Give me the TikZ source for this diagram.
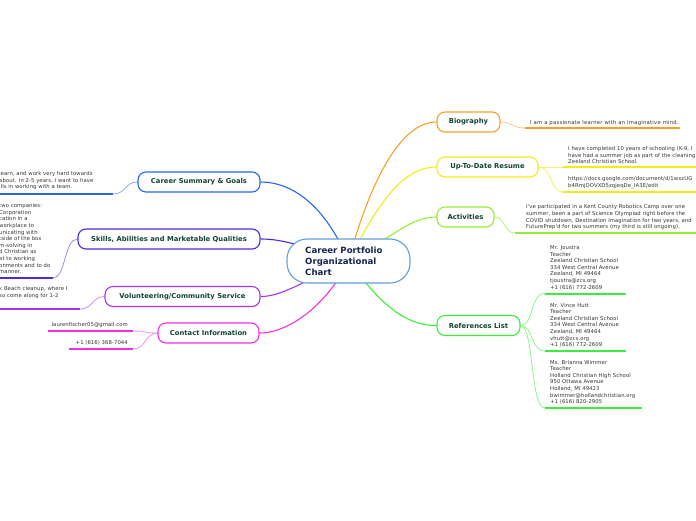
\documentclass[tikz,border=0pt]{standalone}
\usepackage{fontspec}
\setmainfont{DejaVu Sans}
\newfontfamily\leaffont[LetterSpace=1.5]{DejaVu Sans}
\newfontfamily\widefont[LetterSpace=4.5]{DejaVu Sans}
\usetikzlibrary{backgrounds}
\definecolor{orangeC}{RGB}{245,160,40}
\definecolor{yellowC}{RGB}{238,238,20}
\definecolor{limeC}{RGB}{150,238,50}
\definecolor{greenC}{RGB}{60,238,60}
\definecolor{blueC}{RGB}{40,100,240}
\definecolor{indigoC}{RGB}{80,40,220}
\definecolor{purpleC}{RGB}{170,50,240}
\definecolor{magentaC}{RGB}{240,50,220}
\definecolor{centC}{RGB}{95,160,215}
\definecolor{titleC}{RGB}{18,68,55}
\definecolor{navyC}{RGB}{20,35,80}
\definecolor{leafC}{RGB}{50,50,50}
\begin{document}
\begin{tikzpicture}[x=1pt,y=-1pt,
  mainbox/.style={draw, line width=1.1pt, rounded corners=8pt, fill=white,
    font=\fontsize{6.8}{8}\selectfont\bfseries, text=titleC, inner sep=0pt,
    minimum height=20pt},
  leaftext/.style={font=\leaffont\fontsize{5.3}{6.6}\selectfont, text=leafC, align=left, inner sep=0pt},
  trunk/.style={line width=1.1pt},
  twig/.style={line width=0.8pt},
  uline/.style={line width=2pt}
]
\clip (0,0) rectangle (696,520);
\useasboundingbox (0,0) rectangle (696,520);

% central node
\node[draw=centC, line width=1.1pt, rounded corners=20pt, fill=white,
      minimum width=123pt, minimum height=44pt, inner sep=0pt] (c) at (348.5,261) {};
\node[font=\fontsize{8.6}{11}\selectfont\bfseries, text=navyC, align=left,
      anchor=west, inner sep=0pt] (ct) at (305,261) {Career Portfolio\\Organizational\\Chart};

% main nodes
\node[mainbox, draw=orangeC, minimum width=63pt] (bio) at (468.5,122) {Biography};
\node[mainbox, draw=yellowC, minimum width=101pt] (res) at (487.5,167) {Up-To-Date Resume};
\node[mainbox, draw=limeC, minimum width=57pt] (act) at (465.5,217) {Activities};
\node[mainbox, draw=greenC, minimum width=83pt] (ref) at (478.5,325.5) {References List};
\node[mainbox, draw=blueC, minimum width=122pt] (cs) at (199,182) {Career Summary \& Goals};
\node[mainbox, draw=indigoC, minimum width=182pt] (sk) at (169,239) {Skills, Abilities and Marketable Qualities};
\node[mainbox, draw=purpleC, minimum width=155pt] (vol) at (182.5,296.5) {Volunteering/Community Service};
\node[mainbox, draw=magentaC, minimum width=101pt] (ci) at (208.5,333) {Contact Information};

% underline coordinates
\coordinate (b1a) at (525,128); \coordinate (b1b) at (680,128);
\coordinate (r1a) at (563,167); \coordinate (r1b) at (700,167);
\coordinate (r2a) at (563,192); \coordinate (r2b) at (700,192);
\coordinate (a1a) at (515,233); \coordinate (a1b) at (700,233);
\coordinate (f1a) at (545,293.5); \coordinate (f1b) at (626,293.5);
\coordinate (f2a) at (545,351); \coordinate (f2b) at (626,351);
\coordinate (f3a) at (545,408); \coordinate (f3b) at (642,408);
\coordinate (s1a) at (113,194); \coordinate (s1b) at (-5,194);
\coordinate (k1a) at (53,278); \coordinate (k1b) at (-5,278);
\coordinate (v1a) at (80,309); \coordinate (v1b) at (-5,309);
\coordinate (c1a) at (133,331); \coordinate (c1b) at (48,331);
\coordinate (c2a) at (133,349); \coordinate (c2b) at (69,349);

% leaf texts
\node[leaftext, font=\widefont\fontsize{5.3}{6.6}\selectfont, anchor=south west] (bt) at (530,126) {I am a passionate learner with an imaginative mind.};
\node[leaftext, anchor=south west] (rt1) at (568,164) {I have completed 10 years of schooling (K-9, I\\have had a summer job as part of the cleaning\\Zeeland Christian School.};
\node[leaftext, anchor=south west] (rt2) at (568,189) {https://docs.google.com/document/d/1wxzUG\\b4RmjOOVXD5zqjeqDe\_IA3E/edit};
\node[leaftext, anchor=south west] (at) at (526,230) {I've participated in a Kent County Robotics Camp over one\\summer, been a part of Science Olympiad right before the\\COVID shutdown, Destination Imagination for two years, and\\FuturePrep'd for two summers (my third is still ongoing).};
\node[leaftext, anchor=south west] (ft1) at (550,290) {Mr. Joustra\\Teacher\\Zeeland Christian School\\334 West Central Avenue\\Zeeland, MI 49464\\tjoustra@zcs.org\\+1 (616) 772-2609};
\node[leaftext, anchor=south west] (ft2) at (550,347.5) {Mr. Vince Hutt\\Teacher\\Zeeland Christian School\\334 West Central Avenue\\Zeeland, MI 49464\\vhutt@zcs.org\\+1 (616) 772-2609};
\node[leaftext, anchor=south west] (ft3) at (550,404.5) {Ms. Brianna Wimmer\\Teacher\\Holland Christian High School\\950 Ottawa Avenue\\Holland, MI 49423\\bwimmer@hollandchristian.org\\+1 (616) 820-2905};
\node[leaftext, anchor=south west] (st) at (-1,190) {learn, and work very hard towards\\about. In 2-5 years, I want to have\\ills in working with a team.};
\node[leaftext, anchor=south west] (kt) at (-1,274) {two companies:\\ Corporation\\cation in a\\workplace to\\unicating with\\tside of the box\\m-solving in\\d Christian as\\at to working\\onments and to do\\manner.};
\node[leaftext, anchor=south west] (vt) at (-1,298.5) {k Beach cleanup, where I\\so come along for 1-2};
\node[leaftext, anchor=south east] (ct1) at (128,327.5) {laurenfischer05@gmail.com};
\node[leaftext, anchor=south east] (ct2) at (128,345.5) {+1 (616) 368-7044};

\begin{pgfonlayer}{background}
% trunks
\draw[trunk, orangeC] (c.center) .. controls (365,200) and (395,122) .. (bio.west);
\draw[trunk, yellowC] (c.center) .. controls (375,210) and (400,167) .. (res.west);
\draw[trunk, limeC] (c.center) .. controls (400,232) and (412,217) .. (act.west);
\draw[trunk, greenC] (c.center) .. controls (378,300) and (402,325.5) .. (ref.west);
\draw[trunk, blueC] (c.center) .. controls (325,205) and (292,182) .. (cs.east);
\draw[trunk, indigoC] (c.center) .. controls (300,245) and (282,239) .. (sk.east);
\draw[trunk, purpleC] (c.center) .. controls (302,282) and (282,296.5) .. (vol.east);
\draw[trunk, magentaC] (c.center) .. controls (330,300) and (292,333) .. (ci.east);
% twigs
\draw[twig, orangeC!55] (bio.east) .. controls (512,122) and (512,128) .. (b1a);
\draw[twig, yellowC!70] (res.east) .. controls (550,167) and (550,167) .. (r1a);
\draw[twig, yellowC!70] (res.east) .. controls (552,167) and (550,192) .. (r2a);
\draw[twig, limeC!70] (act.east) .. controls (506,217) and (503,233) .. (a1a);
\draw[twig, greenC!60] (ref.east) .. controls (534,325.5) and (530,293.5) .. (f1a);
\draw[twig, greenC!60] (ref.east) .. controls (534,325.5) and (530,351) .. (f2a);
\draw[twig, greenC!60] (ref.east) .. controls (534,325.5) and (530,408) .. (f3a);
\draw[twig, blueC!55] (cs.west) .. controls (125,182) and (126,194) .. (s1a);
\draw[twig, indigoC!55] (sk.west) .. controls (64,239) and (66,278) .. (k1a);
\draw[twig, purpleC!55] (vol.west) .. controls (92,296.5) and (93,309) .. (v1a);
\draw[twig, magentaC!55] (ci.west) .. controls (145,333) and (146,331) .. (c1a);
\draw[twig, magentaC!55] (ci.west) .. controls (145,333) and (146,349) .. (c2a);
% underlines
\draw[uline, orangeC] (b1a) -- (b1b);
\draw[uline, yellowC] (r1a) -- (r1b);
\draw[uline, yellowC] (r2a) -- (r2b);
\draw[uline, limeC] (a1a) -- (a1b);
\draw[uline, greenC] (f1a) -- (f1b);
\draw[uline, greenC] (f2a) -- (f2b);
\draw[uline, greenC] (f3a) -- (f3b);
\draw[uline, blueC] (s1a) -- (s1b);
\draw[uline, indigoC] (k1a) -- (k1b);
\draw[uline, purpleC] (v1a) -- (v1b);
\draw[uline, magentaC] (c1a) -- (c1b);
\draw[uline, magentaC] (c2a) -- (c2b);
\end{pgfonlayer}
\end{tikzpicture}
\end{document}
